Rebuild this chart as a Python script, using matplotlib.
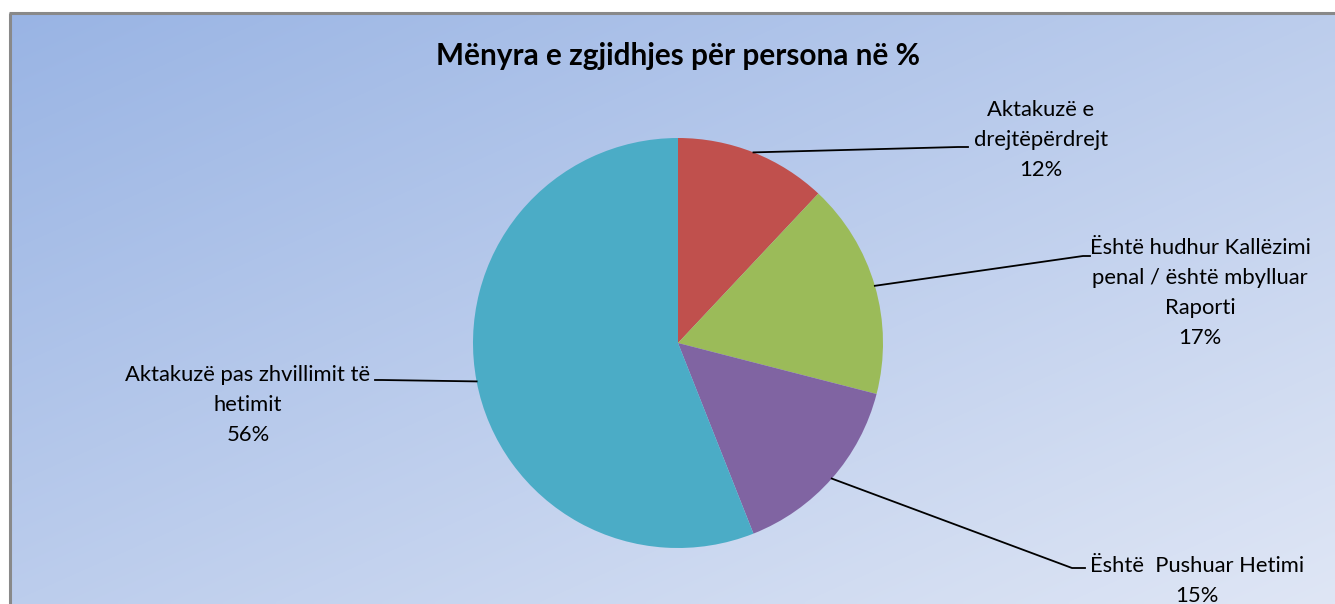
import numpy as np
import matplotlib
matplotlib.use("Agg")
import matplotlib.pyplot as plt

plt.rcParams['font.family'] = ['Lato', 'DejaVu Sans']

title = "Mënyra e zgjidhjes për persona në %"
categories = ["Aktakuzë e\ndrejtëpërdrejt",
              "Është hudhur Kallëzimi\npenal / është mbylluar\nRaporti",
              "Është  Pushuar Hetimi",
              "Aktakuzë pas zhvillimit të\nhetimit"]
values = [12, 17, 15, 56]
colors = ["#C0504D", "#9BBB59", "#8064A2", "#4BACC6"]

W, H = 1335, 604
fig = plt.figure(figsize=(W / 100, H / 100), dpi=100)
ax = fig.add_axes([0, 0, 1, 1])


def Y(y):
    return H - y


# background gradient
x0, ytop = 10, 13
nx, ny = 300, 150
gx = np.linspace(0, 1, nx)
gy = np.linspace(0, 1, ny)
GX, GY = np.meshgrid(gx, gy)
t = 0.5 * (GX + GY)
c0 = np.array([153, 180, 228]) / 255.0
c1 = np.array([223, 230, 245]) / 255.0
img = c0[None, None, :] * (1 - t[..., None]) + c1[None, None, :] * t[..., None]
ax.imshow(img, extent=(x0, W, Y(H), Y(ytop)), origin='upper', aspect='auto',
          zorder=0, interpolation='bilinear')
ax.plot([x0, x0], [Y(H), Y(ytop)], color="#898989", lw=2.2, zorder=1, solid_capstyle='butt')
ax.plot([x0 - 1, W], [Y(ytop), Y(ytop)], color="#898989", lw=2.2, zorder=1, solid_capstyle='butt')

cx, cy, R = 678, 343, 205
wedges, _ = ax.pie(values, colors=colors, startangle=90, counterclock=False,
                   center=(cx, Y(cy)), radius=R, frame=True,
                   wedgeprops=dict(linewidth=0))
ax.set_xlim(0, W)
ax.set_ylim(0, H)
ax.set_aspect('equal')
ax.axis('off')

total = sum(values)
# label text positions (pixel, center of text block), and elbow points
label_pos = [(1041, 140), (1200, 293), (1197, 581), (248, 405)]
elbows = [((958, 147), (968, 147)), ((1083, 256), (1090, 256)),
          ((1072, 568), (1085, 568)), ((382, 380), (375, 380))]

for w, lab, v, (tx, ty), (e1, e2) in zip(wedges, categories, values, label_pos, elbows):
    ang = np.deg2rad((w.theta1 + w.theta2) / 2)
    px = cx + R * np.cos(ang)
    py = Y(cy) + R * np.sin(ang)
    ax.plot([px, e1[0], e2[0]], [py, Y(e1[1]), Y(e2[1])], color='black', lw=1.3, zorder=3)
    pct = f"{round(v / total * 100)}%"
    ax.text(tx, Y(ty), lab + "\n" + pct, ha='center', va='center', fontsize=15.8,
            linespacing=1.62, color='black', zorder=4)

ax.text(678, Y(56), title, ha='center', va='center', fontsize=21.4, fontweight='bold',
        color='black', zorder=4)

fig.savefig("out.png", dpi=100)
